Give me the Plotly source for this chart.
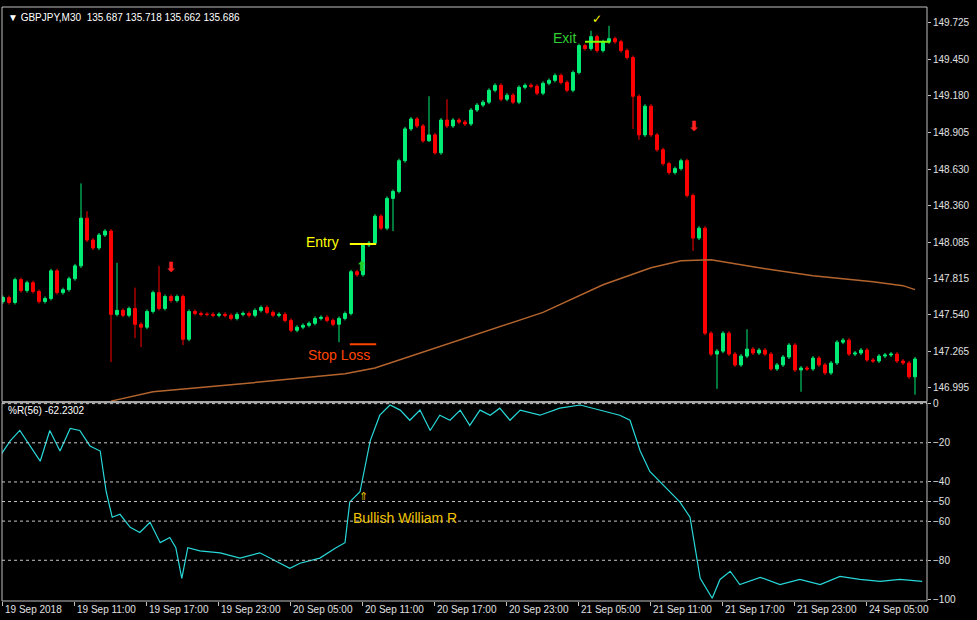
import plotly.graph_objects as go

# GBPJPY M30 - candles, MA and Williams %R
close = [
    147.670, 147.633, 147.804, 147.722, 147.781, 147.715, 147.640, 147.663, 147.870, 147.707,
    147.729, 147.811, 147.907, 148.264, 148.100, 148.041, 148.138, 148.167, 147.544, 147.574,
    147.537, 147.588, 147.470, 147.448, 147.566, 147.707, 147.588, 147.678, 147.648, 147.678,
    147.358, 147.566, 147.551, 147.544, 147.544, 147.537, 147.544, 147.537, 147.514, 147.544,
    147.551, 147.537, 147.574, 147.596, 147.559, 147.537, 147.544, 147.499, 147.425, 147.448,
    147.462, 147.477, 147.514, 147.522, 147.499, 147.470, 147.514, 147.551, 147.863, 147.841,
    148.063, 148.078, 148.279, 148.189, 148.412, 148.464, 148.694, 148.932, 149.006, 148.954,
    148.843, 148.887, 148.753, 148.998, 148.954, 148.998, 148.983, 148.969, 149.073, 149.110,
    149.132, 149.221, 149.258, 149.154, 149.184, 149.132, 149.243, 149.258, 149.251, 149.199,
    149.273, 149.295, 149.332, 149.280, 149.221, 149.354, 149.555, 149.533, 149.622, 149.518,
    149.584, 149.607, 149.584, 149.518, 149.466, 149.176, 148.887, 149.102, 148.887, 148.776,
    148.672, 148.605, 148.635, 148.694, 148.434, 148.115, 148.189, 147.403, 147.247, 147.269,
    147.403, 147.247, 147.166, 147.232, 147.284, 147.255, 147.277, 147.247, 147.136, 147.166,
    147.225, 147.314, 147.128, 147.143, 147.136, 147.217, 147.166, 147.106, 147.180, 147.336,
    147.351, 147.247, 147.255, 147.277, 147.203, 147.195, 147.232, 147.240, 147.247, 147.195,
    147.180, 147.077, 147.210,
]
first_open = 147.640
wick = 0.015
# wick extremes (index: price)
high_read = {8: 147.885, 13: 148.524, 14: 148.316, 19: 147.930, 22: 147.744, 26: 147.907,
             71: 149.176, 74: 149.154, 98: 149.666, 101: 149.703, 124: 147.433}
low_read = {18: 147.188, 22: 147.366, 23: 147.299, 30: 147.314, 56: 147.336, 65: 148.167,
            71: 148.835, 96: 149.340, 105: 148.932, 106: 148.850, 115: 148.019,
            119: 146.987, 133: 146.965, 152: 146.943}

ma_idx = [18, 25, 38, 50, 57, 62, 70, 80, 90, 100, 108, 113, 118, 125, 135, 145, 150, 152]
ma_val = [146.895, 146.965, 147.017, 147.069, 147.099, 147.143, 147.262, 147.411, 147.559,
          147.766, 147.893, 147.945, 147.952, 147.900, 147.833, 147.788, 147.759, 147.729]

wr_idx = [-0.5, 1.2, 2.8, 4.5, 6.2, 7.8, 9.5, 11.2, 12.8, 14.5, 16.2, 17.2, 18.2, 19.5, 21.2,
          22.8, 24.5, 26.2, 27.8, 28.8, 29.8, 30.8, 32.8, 36.2, 39.5, 42.8, 46.2, 47.8, 49.5,
          52.8, 55.5, 57, 57.8, 59.5, 61.2, 62.8, 64.5, 66.2, 67.8, 69.5, 71.2, 72.8, 74.5,
          76.2, 77.8, 79.5, 81.2, 82.8, 84.5, 86.2, 89.5, 92.8, 96.2, 99.5, 102.8, 104.5,
          106.2, 107.8, 109.5, 111.2, 112.8, 114.5, 116.2, 118.2, 119.5, 121.2, 122.8, 126.2,
          129.5, 132.8, 136.2, 139.5, 142.8, 146.2, 149.5, 153.2]
wr_val = [-26.8, -19.0, -13.7, -21.6, -29.4, -13.7, -24.2, -12.7, -13.7, -21.6, -24.2, -45.0,
          -58.0, -56.5, -63.2, -65.8, -60.6, -71.0, -68.4, -73.6, -89.2, -73.6, -75.2, -76.2,
          -78.9, -76.2, -81.5, -84.1, -81.5, -78.9, -73.6, -71.0, -50.2, -45.0, -19.0, -5.9,
          -0.7, -3.3, -8.5, -3.3, -13.7, -5.9, -8.5, -3.3, -11.1, -3.3, -5.9, -2.3, -8.5, -3.3,
          -5.9, -2.3, -0.7, -3.3, -5.9, -8.5, -24.2, -34.6, -39.8, -45.0, -50.2, -58.0, -89.2,
          -99.4, -89.8, -85.6, -92.4, -88.7, -92.4, -89.8, -92.4, -88.2, -89.8, -90.8, -89.8,
          -90.8]

price_ticks = [146.995, 147.265, 147.540, 147.815, 148.085, 148.360, 148.630, 148.905,
               149.180, 149.450, 149.725]
wr_levels = [-20, -40, -50, -60, -80]
wr_ticks = [0, -20, -40, -50, -60, -80, -100]
time_labels = ["19 Sep 2018", "19 Sep 11:00", "19 Sep 17:00", "19 Sep 23:00", "20 Sep 05:00",
               "20 Sep 11:00", "20 Sep 17:00", "20 Sep 23:00", "21 Sep 05:00", "21 Sep 11:00",
               "21 Sep 17:00", "21 Sep 23:00", "24 Sep 05:00"]

idx = list(range(len(close)))
opens = [first_open] + close[:-1]
highs = [high_read.get(i, max(o, c) + wick) for i, (o, c) in enumerate(zip(opens, close))]
lows = [low_read.get(i, min(o, c) - wick) for i, (o, c) in enumerate(zip(opens, close))]

GREEN = "#00ee76"
FONT = "Liberation Sans"

fig = go.Figure()
fig.add_trace(go.Candlestick(
    x=idx, open=opens, high=highs, low=lows, close=close,
    increasing=dict(line=dict(color=GREEN, width=1), fillcolor=GREEN),
    decreasing=dict(line=dict(color="#ff0000", width=1), fillcolor="#ff0000"),
    whiskerwidth=0, xaxis="x", yaxis="y", showlegend=False, hoverinfo="skip",
))
fig.add_trace(go.Scatter(x=ma_idx, y=ma_val, mode="lines", line=dict(color="#b4642d", width=1.5),
                         xaxis="x", yaxis="y", showlegend=False))
fig.add_trace(go.Scatter(x=wr_idx, y=wr_val, mode="lines", line=dict(color="#28d8d8", width=1.2),
                         xaxis="x", yaxis="y2", showlegend=False))

x0, x1 = -0.167, 154.0
shapes = []
for lv in [0] + wr_levels:
    shapes.append(dict(type="line", xref="x", yref="y2", x0=x0, x1=x1, y0=lv, y1=lv,
                       line=dict(color="#c8c8c8", width=1, dash="dot")))
# panel frames
for dom in ([0.3356, 1], [0, 0.3339]):
    shapes.append(dict(type="rect", xref="paper", yref="paper", x0=0, x1=1, y0=dom[0], y1=dom[1],
                       line=dict(color="#c0c0c0", width=1)))
# trade markers
shapes.append(dict(type="line", xref="x", yref="y", x0=57.8, x1=62.2, y0=148.071, y1=148.071,
                   line=dict(color="#ffff00", width=2)))
shapes.append(dict(type="line", xref="x", yref="y", x0=57.8, x1=62.2, y0=147.321, y1=147.321,
                   line=dict(color="#ff4500", width=2)))
shapes.append(dict(type="line", xref="x", yref="y", x0=97, x1=101.2, y0=149.584, y1=149.584,
                   line=dict(color="#7cfc00", width=2)))

ann = []
for k, t in enumerate(time_labels):
    ann.append(dict(x=x0 + 12 * k, y=0, xref="x", yref="paper", yanchor="top", xanchor="left",
                    text=t, showarrow=False, xshift=1, yshift=-1,
                    font=dict(color="#e0e0e0", size=10, family=FONT)))
ann += [
    dict(x=0.004, y=0.995, xref="paper", yref="paper", xanchor="left", yanchor="top",
         text="▼ GBPJPY,M30  135.687 135.718 135.662 135.686", showarrow=False,
         font=dict(color="#ffffff", size=10, family=FONT)),
    dict(x=0.004, y=0.333, xref="paper", yref="paper", xanchor="left", yanchor="top",
         text="%R(56) -62.2302", showarrow=False, font=dict(color="#ffffff", size=10, family=FONT)),
    dict(x=56.3, y=148.086, xref="x", yref="y", xanchor="right", text="Entry", showarrow=False,
         font=dict(color="#ffff00", size=14, family=FONT)),
    dict(x=56.0, y=147.240, xref="x", yref="y", text="Stop Loss", showarrow=False,
         font=dict(color="#ff4500", size=14, family=FONT)),
    dict(x=95.8, y=149.614, xref="x", yref="y", xanchor="right", text="Exit", showarrow=False,
         font=dict(color="#32cd32", size=14, family=FONT)),
    dict(x=99, y=149.755, xref="x", yref="y", text="✓", showarrow=False,
         font=dict(color="#ffff00", size=12, family="DejaVu Sans")),
    dict(x=28, y=147.900, xref="x", yref="y", text="<b>⬇</b>", showarrow=False,
         font=dict(color="#ff2020", size=14, family="DejaVu Sans")),
    dict(x=115.2, y=148.954, xref="x", yref="y", text="<b>⬇</b>", showarrow=False,
         font=dict(color="#ff2020", size=14, family="DejaVu Sans")),
    dict(x=59.8, y=147.907, xref="x", yref="y", text="<b>⬆</b>", showarrow=False,
         font=dict(color="#22cc22", size=14, family="DejaVu Sans")),
    dict(x=60, y=-47.5, xref="x", yref="y2", text="⇑", showarrow=False,
         font=dict(color="#e6c200", size=11, family="DejaVu Sans")),
    dict(x=58, y=-58.5, xref="x", yref="y2", xanchor="left", text="Bullish William R",
         showarrow=False, font=dict(color="#f0c400", size=14, family=FONT)),
]

fig.update_layout(
    width=977, height=620, paper_bgcolor="#000000", plot_bgcolor="#000000",
    margin=dict(l=2, r=50, t=2, b=19), showlegend=False,
    font=dict(family=FONT, color="#e0e0e0", size=10),
    xaxis=dict(range=[x0, x1], anchor="y2", showgrid=False, zeroline=False, showticklabels=False,
               tickvals=[x0 + 12 * k for k in range(len(time_labels))], ticks="outside",
               ticklen=4, tickcolor="#c0c0c0", rangeslider=dict(visible=False)),
    yaxis=dict(domain=[0.3356, 1], range=[146.891, 149.844], side="right", showgrid=False,
               zeroline=False, tickvals=price_ticks, ticktext=[f"{v:.3f}" for v in price_ticks],
               ticks="outside", ticklen=3, tickcolor="#c0c0c0",
               tickfont=dict(color="#e0e0e0", size=10, family=FONT)),
    yaxis2=dict(domain=[0, 0.3339], range=[-100.8, 0.5], side="right", showgrid=False,
                zeroline=False, tickvals=wr_ticks, ticks="outside", ticklen=3,
                tickcolor="#c0c0c0", tickfont=dict(color="#e0e0e0", size=10, family=FONT)),
    shapes=shapes, annotations=ann,
)

fig.write_html("out.html", config={"displayModeBar": False},
               post_script="document.body.style.margin='0';")
